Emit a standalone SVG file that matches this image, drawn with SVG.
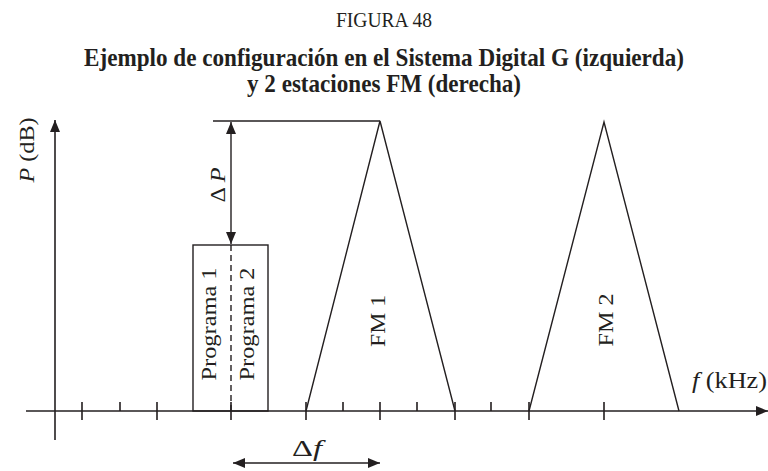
<svg xmlns="http://www.w3.org/2000/svg" width="768" height="471" viewBox="0 0 768 471">
<style>
  .ln{stroke:#231f20;stroke-width:1.4;fill:none}
  .ax{stroke:#231f20;stroke-width:1.6;fill:none}
  .t{font-family:"Liberation Serif","Times New Roman",serif;fill:#231f20}
  .lbl{font-size:21px}
  .it{font-style:italic}
  .ttl{font-size:25px;font-weight:bold}
</style>
<defs>
  <marker id="ah" viewBox="0 0 12 10" refX="12" refY="5" markerWidth="12" markerHeight="10" markerUnits="userSpaceOnUse" orient="auto-start-reverse">
    <path d="M0,0 L12,5 L0,10 Z" fill="#231f20"/>
  </marker>
</defs>
<rect width="768" height="471" fill="#fff"/>
<g id="title" class="t" text-anchor="middle">
  <text x="384" y="27" font-size="21px" textLength="96" lengthAdjust="spacingAndGlyphs">FIGURA 48</text>
  <text x="384" y="66" class="ttl" textLength="600" lengthAdjust="spacingAndGlyphs">Ejemplo de configuración en el Sistema Digital G (izquierda)</text>
  <text x="384" y="92" class="ttl" textLength="274" lengthAdjust="spacingAndGlyphs">y 2 estaciones FM (derecha)</text>
</g>
<g id="axes">
  <line class="ax" x1="55" y1="440" x2="55" y2="120" marker-end="url(#ah)"/>
  <line class="ax" x1="26" y1="411" x2="768" y2="411" marker-end="url(#ah)"/>
  <path class="ax" d="M82,402V420 M157,402V420 M231,402V420 M306,402V420 M380,402V420 M455,402V420 M529,402V420 M604,402V420 M120,402V411 M343,402V411 M417,402V411 M491,402V411"/>
  <text class="t lbl" transform="translate(34,150) rotate(-90)" text-anchor="middle" textLength="65" lengthAdjust="spacingAndGlyphs"><tspan class="it">P</tspan> (dB)</text>
  <text class="t" font-size="23px" x="692" y="388" textLength="75" lengthAdjust="spacingAndGlyphs"><tspan class="it">f</tspan> (kHz)</text>
</g>
<g id="programas">
  <rect class="ln" x="193" y="245" width="75" height="166"/>
  <line class="ln" x1="231" y1="245" x2="231" y2="411" stroke-dasharray="6,4"/>
  <text class="t lbl" transform="translate(216,324) rotate(-90)" text-anchor="middle" textLength="113" lengthAdjust="spacingAndGlyphs">Programa 1</text>
  <text class="t lbl" transform="translate(254,324) rotate(-90)" text-anchor="middle" textLength="113" lengthAdjust="spacingAndGlyphs">Programa 2</text>
</g>
<g id="fm1">
  <path class="ln" d="M306,411 L380,121 L455,411"/>
  <text class="t lbl" transform="translate(385,321) rotate(-90)" text-anchor="middle" textLength="52" lengthAdjust="spacingAndGlyphs">FM 1</text>
</g>
<g id="fm2">
  <path class="ln" d="M529,411 L604,122 L679,411"/>
  <text class="t lbl" transform="translate(613,320) rotate(-90)" text-anchor="middle" textLength="53" lengthAdjust="spacingAndGlyphs">FM 2</text>
</g>
<g id="connectors">
  <line class="ln" x1="213" y1="121" x2="380" y2="121"/>
  <line class="ln" x1="231" y1="122" x2="231" y2="244" marker-start="url(#ah)" marker-end="url(#ah)"/>
  <line class="ln" x1="233" y1="463" x2="380" y2="463" marker-start="url(#ah)" marker-end="url(#ah)"/>
  <text class="t lbl" transform="translate(225,185) rotate(-90)" text-anchor="middle" textLength="35" lengthAdjust="spacingAndGlyphs">Δ <tspan class="it">P</tspan></text>
  <text class="t" font-size="23px" x="307" y="456" text-anchor="middle" textLength="30" lengthAdjust="spacingAndGlyphs">Δ<tspan class="it">f</tspan></text>
</g>
</svg>
